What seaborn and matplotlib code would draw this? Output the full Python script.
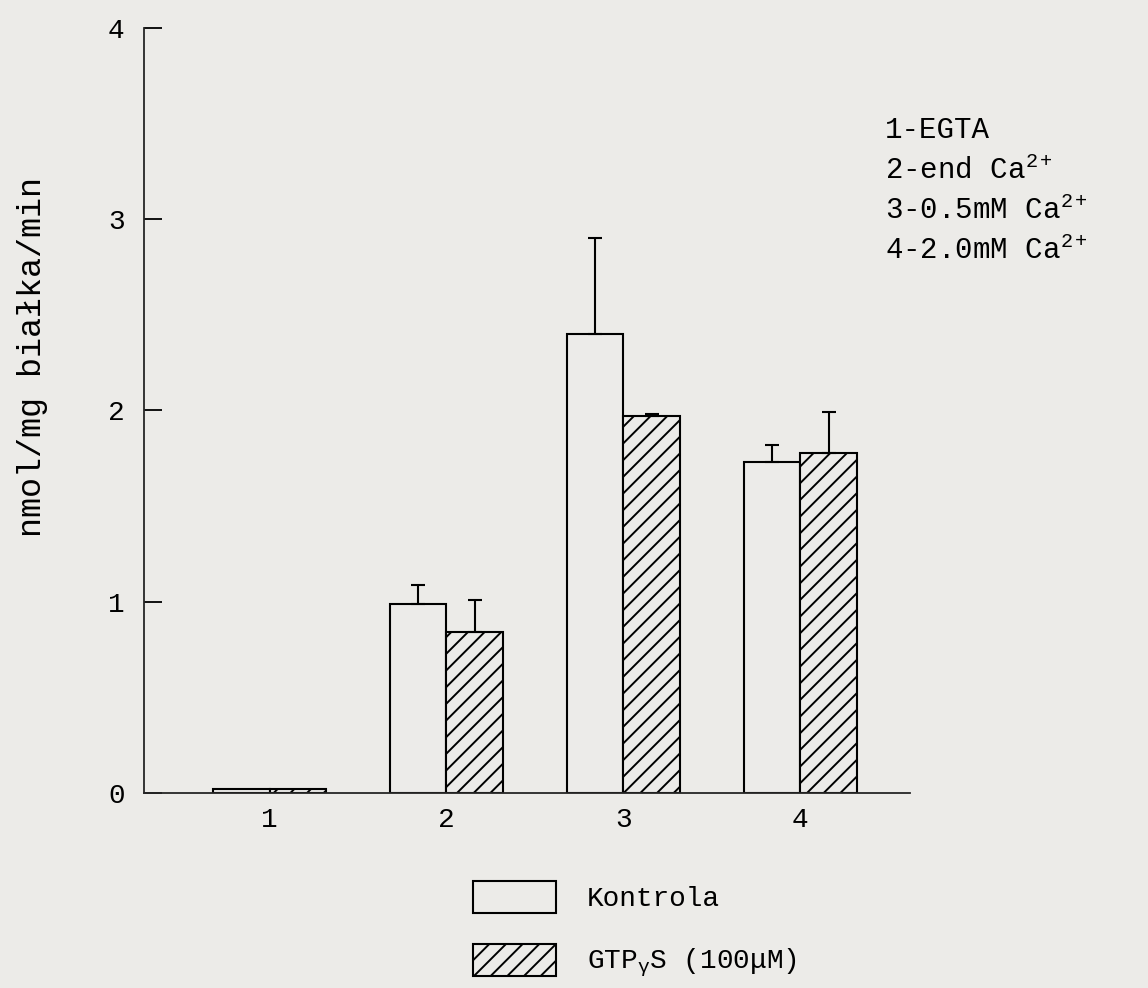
import matplotlib
matplotlib.use("Agg")
import matplotlib.pyplot as plt
import seaborn as sns
import pandas as pd
import numpy as np
from matplotlib.patches import Patch

categories = ["1", "2", "3", "4"]
kontrola = [0.02, 0.99, 2.40, 1.73]
kontrola_err = [0.0, 0.10, 0.50, 0.09]
gtp = [0.02, 0.84, 1.97, 1.78]
gtp_err = [0.0, 0.17, 0.01, 0.21]
series_names = ["Kontrola", "GTPγS (100μM)"]
y_ticks = [0, 1, 2, 3, 4]
conditions = ["1-EGTA", "2-end Ca$^{2+}$", "3-0.5mM Ca$^{2+}$", "4-2.0mM Ca$^{2+}$"]

sns.set_style("ticks")
FONT = "Liberation Mono"
plt.rcParams["font.family"] = [FONT, "DejaVu Sans"]
plt.rcParams["mathtext.fontset"] = "custom"
plt.rcParams["mathtext.rm"] = FONT
plt.rcParams["mathtext.it"] = FONT
plt.rcParams["hatch.linewidth"] = 1.4
plt.rcParams["text.color"] = "black"
plt.rcParams["xtick.color"] = "black"
plt.rcParams["ytick.color"] = "black"
BG = "#ecebe8"

df = pd.DataFrame({
    "cat": categories * 2,
    "val": kontrola + gtp,
    "series": [series_names[0]] * 4 + [series_names[1]] * 4,
})

fig = plt.figure(figsize=(11.48, 9.88), dpi=100, facecolor=BG)
ax = fig.add_axes([0.1254, 0.1974, 0.6673, 0.7743])
ax.set_facecolor(BG)

sns.barplot(data=df, x="cat", y="val", hue="series", order=categories,
            hue_order=series_names, palette=[BG, BG], edgecolor="black",
            linewidth=1.5, width=0.64, gap=0, errorbar=None, legend=False, ax=ax)

bars = ax.patches
k_bars = bars[:4]
g_bars = bars[4:8]
for b in g_bars:
    b.set_hatch("//")

for blist, vals, errs in [(k_bars, kontrola, kontrola_err), (g_bars, gtp, gtp_err)]:
    for b, v, e in zip(blist, vals, errs):
        if e > 0:
            xc = b.get_x() + b.get_width() / 2
            ax.errorbar([xc], [v], yerr=[[0], [e]], fmt="none", ecolor="black",
                        elinewidth=1.5, capsize=5, capthick=1.5)

ax.set_ylim(0, 4)
ax.set_xlim(-0.71, 3.62)
ax.set_yticks(y_ticks)
ax.set_yticklabels([str(t) for t in y_ticks], fontsize=20)
ax.tick_params(axis="y", direction="in", length=13, width=1.3, pad=14)
ax.tick_params(axis="x", length=0, pad=10, labelsize=20)
ax.set_xlabel("")
ax.set_ylabel("")
sns.despine(ax=ax)
for s in ["left", "bottom"]:
    ax.spines[s].set_linewidth(1.3)

fig.text(0.028, 1 - 357 / 988, "nmol/mg białka/min", rotation=90,
         ha="center", va="center", fontsize=24)

for i, t in enumerate(conditions):
    fig.text(885 / 1148, 1 - (130 + i * 40) / 988, t, ha="left", va="center", fontsize=21)

handles = [Patch(facecolor=BG, edgecolor="black", linewidth=1.5),
           Patch(facecolor=BG, edgecolor="black", linewidth=1.5, hatch="//")]
labels = ["Kontrola", "GTP$_{\\gamma}$S (100$\\mu$M)"]
fig.legend(handles, labels, loc="upper left", bbox_to_anchor=(448 / 1148, 1 - 856 / 988),
           frameon=False, fontsize=20, handlelength=3.0, handleheight=1.4,
           labelspacing=1.1, handletextpad=1.1)

fig.savefig("out.png", dpi=100, facecolor=BG)
